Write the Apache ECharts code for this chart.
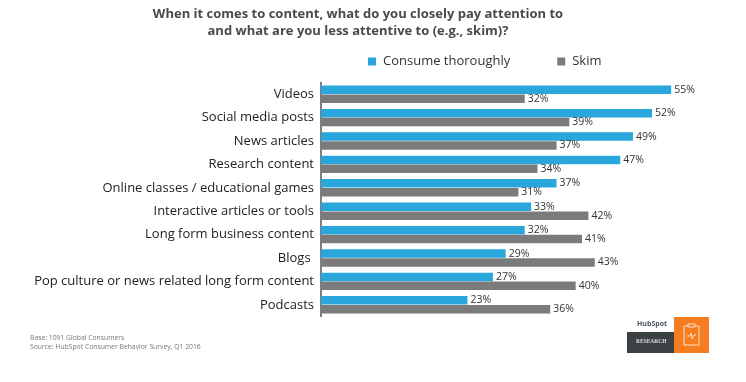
<!DOCTYPE html>
<html>
<head>
<meta charset="utf-8">
<style>html,body{margin:0;padding:0;background:#fff}#chart{width:746px;height:382px}</style>
<script src="https://cdn.jsdelivr.net/npm/echarts@6/dist/echarts.min.js"></script>
</head>
<body>
<div id="chart"></div>
<script>
var categories = ["Videos", "Social media posts", "News articles", "Research content",
    "Online classes / educational games", "Interactive articles or tools",
    "Long form business content", "Blogs ", "Pop culture or news related long form content", "Podcasts"];
var consume = [55, 52, 49, 47, 37, 33, 32, 29, 27, 23];
var skim = [32, 39, 37, 34, 31, 42, 41, 43, 40, 36];

var font = "'Open Sans', 'Noto Sans', sans-serif";
var chart = echarts.init(document.getElementById("chart"));

function barSeries(name, data, color) {
    return {
        name: name,
        type: "bar",
        data: data,
        barWidth: 8.5,
        barGap: "5%",
        itemStyle: { color: color },
        label: {
            show: true,
            position: "right",
            distance: 3,
            formatter: "{c}%",
            color: "#333",
            fontSize: 10.5,
            fontFamily: font
        }
    };
}

chart.setOption({
    animation: false,
    title: {
        text: "When it comes to content, what do you closely pay attention to\nand what are you less attentive to (e.g., skim)?",
        left: 353,
        top: 1,
        textAlign: "center",
        textStyle: { color: "#4a4a4a", fontSize: 13, fontWeight: "bold", lineHeight: 17, fontFamily: font }
    },
    legend: {
        data: ["Consume thoroughly", "Skim"],
        left: 363,
        top: 50,
        itemWidth: 8,
        itemHeight: 8,
        itemGap: 47,
        icon: "rect",
        textStyle: { color: "#333", fontSize: 13, fontFamily: font, padding: [0, 0, 0, 2] }
    },
    grid: { left: 321, top: 82.5, width: 382, height: 234 },
    xAxis: { type: "value", min: 0, max: 60, show: false },
    yAxis: {
        type: "category",
        data: categories,
        inverse: true,
        axisTick: { show: false },
        axisLine: { lineStyle: { color: "#555", width: 1.5 } },
        axisLabel: { color: "#222", fontSize: 13, margin: 7, fontFamily: font }
    },
    series: [barSeries("Consume thoroughly", consume, "#29a6dc"), barSeries("Skim", skim, "#7b7b7b")],
    graphic: [
        { type: "text", left: 30, top: 334, style: { text: "Base: 1091 Global Consumers\nSource: HubSpot Consumer Behavior Survey, Q1 2016", fill: "#777", fontSize: 6.8, lineHeight: 9, fontFamily: font } },
        { type: "text", left: 637, top: 320, style: { text: "HubSpot", fill: "#4a5560", fontSize: 7, fontWeight: "bold", fontFamily: font } },
        { type: "rect", shape: { x: 627, y: 332, width: 47, height: 21 }, style: { fill: "#3c4144" } },
        { type: "text", left: 636, top: 339, style: { text: "RESEARCH", fill: "#ddd", fontSize: 5.5, fontWeight: "bold", fontFamily: "'Liberation Serif', serif" } },
        { type: "rect", shape: { x: 674, y: 317, width: 35, height: 36 }, style: { fill: "#f57d20" } },
        { type: "rect", shape: { x: 684, y: 326, width: 15, height: 19 }, style: { fill: "none", stroke: "#ffe3c8", lineWidth: 1 } },
        { type: "rect", shape: { x: 688, y: 324, width: 7, height: 3 }, style: { fill: "#f57d20", stroke: "#ffe3c8", lineWidth: 1 } },
        { type: "polyline", shape: { points: [[687, 336], [690, 336], [691, 333], [692, 339], [694, 335], [696, 335]] }, style: { fill: "none", stroke: "#ffe3c8", lineWidth: 1 } }
    ]
});
</script>
</body>
</html>
